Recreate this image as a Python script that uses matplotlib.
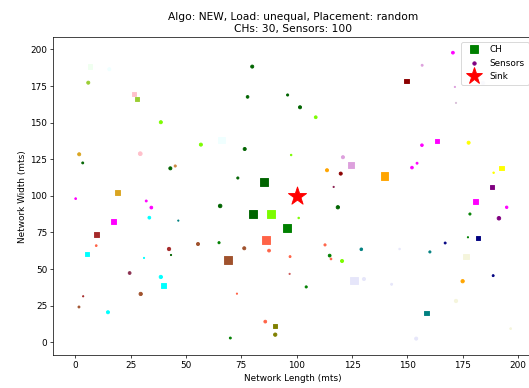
import matplotlib
matplotlib.use("Agg")
import matplotlib.pyplot as plt
from matplotlib.lines import Line2D

# ---- Cluster heads (squares) ----
ch_x = [26.4, 27.9, 19.1, 17.1, 9.4, 5.3, 39.9, 68.9, 85.3, 80.4, 88.5, 95.6, 86.2, 90.0,
        149.7, 124.7, 139.7, 125.9, 158.7, 163.5, 192.6, 188.1, 181.0, 181.8,
        6.6, 66.0, 176.5]
ch_y = [169.4, 166.2, 102.0, 82.6, 73.8, 60.5, 38.7, 56.4, 109.3, 87.4, 87.4, 77.9, 69.9, 11.1,
        178.3, 121.3, 113.6, 42.3, 20.0, 137.5, 118.9, 105.9, 96.0, 71.4,
        188.3, 138.0, 58.5]
ch_size = [18, 18, 33, 30, 33, 19, 30, 77, 83, 83, 83, 83, 83, 19,
           24, 50, 64, 64, 24, 24, 24, 19, 33, 17,
           30, 50, 40]
ch_color = ["pink", "yellowgreen", "goldenrod", "magenta", "brown", "cyan", "cyan", "sienna",
            "darkgreen", "darkgreen", "lawngreen", "green", "tomato", "olive",
            "darkred", "plum", "orange", "lavender", "teal", "magenta", "yellow", "purple",
            "magenta", "navy",
            "honeydew", "azure", "beige"]

# ---- Sensors (circles) ----
s_x = [5.8, 1.7, 3.3, 29.3, 0.1, 32.0, 34.3, 33.4, 9.4, 31.0, 24.5, 29.5, 3.5, 1.6, 14.7,
       38.6, 56.7, 42.9, 45.1, 76.5, 73.4, 65.4, 46.5, 42.3, 43.2, 55.4, 64.9, 76.3, 38.6, 73.0, 70.0,
       79.9, 77.8, 95.9, 101.5, 108.6, 97.5, 113.7, 119.9, 116.7, 118.6, 100.9, 87.5, 97.0, 112.8,
       114.9, 115.5, 96.8, 104.3, 85.8, 90.3,
       156.7, 120.9, 156.6, 154.4, 152.1, 129.2, 120.5, 160.2, 130.4, 146.5, 142.9, 154.0,
       170.6, 171.5, 172.0, 177.7, 189.0, 194.9, 191.4, 178.3, 177.4, 167.1, 188.8, 175.0,
       172.0, 196.7, 15.3, 184.2]
s_y = [177.3, 128.4, 122.5, 128.8, 98.1, 96.5, 92.0, 85.1, 66.0, 57.6, 47.3, 33.0, 31.4, 24.1, 20.5,
       150.3, 135.0, 118.8, 120.4, 132.0, 112.2, 93.1, 83.1, 63.7, 59.6, 67.1, 68.0, 64.2, 44.6, 33.2, 2.9,
       188.3, 167.6, 168.9, 160.5, 153.7, 127.9, 117.5, 115.2, 106.1, 92.2, 84.9, 62.6, 58.5, 66.5,
       59.2, 56.9, 46.7, 37.8, 14.1, 5.2,
       189.2, 126.4, 134.6, 122.3, 119.3, 63.5, 55.5, 61.7, 43.2, 63.7, 39.6, 2.5,
       197.8, 174.4, 163.5, 136.3, 115.8, 92.2, 84.7, 87.6, 71.7, 67.8, 45.5, 41.7,
       28.2, 9.3, 186.5, 177.1]
s_size = [12, 12, 5, 18, 4, 5, 10, 10, 4, 2, 10, 14, 2, 5, 12,
          12, 12, 12, 6, 12, 6, 16, 2, 14, 2, 12, 6, 12, 14, 2, 5,
          12, 9, 6, 12, 10, 3, 12, 12, 2, 14, 3, 10, 5, 6,
          10, 4, 2, 6, 10, 14,
          5, 12, 9, 5, 9, 9, 12, 6, 12, 3, 5, 12,
          10, 2, 2, 12, 3, 8, 16, 6, 2, 5, 5, 14,
          14, 4, 12, 14]
s_color = ["yellowgreen", "goldenrod", "darkgreen", "pink", "magenta", "magenta", "magenta", "cyan",
           "tomato", "cyan", "#8b3050", "sienna", "brown", "sienna", "cyan",
           "lawngreen", "lawngreen", "darkgreen", "peru", "darkgreen", "darkgreen", "darkgreen", "teal",
           "brown", "darkgreen", "sienna", "green", "sienna", "cyan", "tomato", "green",
           "darkgreen", "darkgreen", "darkgreen", "darkgreen", "lawngreen", "lawngreen", "orange",
           "darkred", "#8b2252", "darkgreen", "lawngreen", "tomato", "tomato", "tomato",
           "green", "tomato", "indianred", "green", "tomato", "olive",
           "plum", "plum", "magenta", "magenta", "magenta", "teal", "lawngreen", "teal",
           "lavender", "lavender", "lavender", "lavender",
           "magenta", "plum", "thistle", "yellow", "yellow", "magenta", "purple", "green", "green",
           "navy", "navy", "orange",
           "beige", "beige", "azure", "lavender"]

sink_x = [100.0]
sink_y = [100.0]

title = "Algo: NEW, Load: unequal, Placement: random\nCHs: 30, Sensors: 100"

DPI = 64
fig = plt.figure(figsize=(529 / DPI, 388 / DPI), dpi=DPI)
ax = fig.add_axes([53.3 / 529, 1 - 355 / 388, (533 - 53.3) / 529, (355 - 37.3) / 388])

ax.scatter(ch_x, ch_y, s=ch_size, c=ch_color, marker="s", zorder=2)
ax.scatter(s_x, s_y, s=s_size, c=s_color, marker="o", zorder=2)
ax.scatter(sink_x, sink_y, s=460, c="red", marker="*", zorder=3)

ax.set_xlim(-10.0, 206.8)
ax.set_ylim(-8.7, 208.3)
ax.set_xticks([0, 25, 50, 75, 100, 125, 150, 175, 200])
ax.set_yticks([0, 25, 50, 75, 100, 125, 150, 175, 200])
ax.set_xlabel("Network Length (mts)")
ax.set_ylabel("Network Width (mts)")
ax.set_title(title)

handles = [
    Line2D([], [], linestyle="none", marker="s", color="green", markersize=8.3),
    Line2D([], [], linestyle="none", marker="o", color="purple", markersize=3.8),
    Line2D([], [], linestyle="none", marker="*", color="red", markersize=20),
]
ax.legend(handles, ["CH", "Sensors", "Sink"], loc="upper right")

fig.savefig("out.png", dpi=DPI)
